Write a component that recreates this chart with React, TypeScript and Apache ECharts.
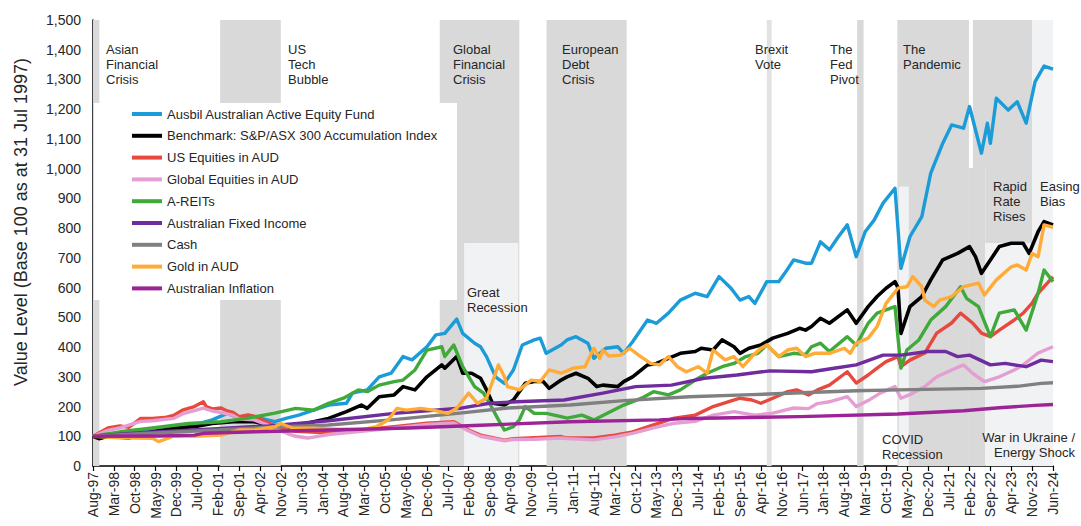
import React, { useEffect, useRef } from "react";
import * as echarts from "echarts";

// ---------- axis categories ----------
const MONTH_NAMES = ["Jan", "Feb", "Mar", "Apr", "May", "Jun", "Jul", "Aug", "Sep", "Oct", "Nov", "Dec"];
const FIRST_YEAR = 1997;
const FIRST_MONTH = 8; // Aug-97
const LAST_INDEX = 322; // Jun-24
const TICK_EVERY = 7; // months between tick labels
const Y_MAX = 1500;
const Y_STEP = 100;
const Y_TITLE = "Value Level (Base 100 as at 31 Jul 1997)";

// ---------- series values (month-end, Base 100 at 31 Jul 1997) ----------
const ausbil: [string, number][] = [
  ["1997-08", 100], ["1998-05", 110], ["1999-04", 121], ["1999-11", 132], ["2000-06", 138], ["2000-12", 155],
  ["2001-05", 177], ["2001-09", 161], ["2002-02", 166], ["2002-09", 149], ["2003-01", 161], ["2003-05", 171],
  ["2003-10", 188], ["2004-03", 205], ["2004-09", 211], ["2004-11", 245], ["2005-04", 256], ["2005-08", 300],
  ["2005-12", 312], ["2006-04", 368], ["2006-07", 357], ["2006-12", 401], ["2007-03", 441], ["2007-06", 446],
  ["2007-10", 494], ["2007-12", 446], ["2008-04", 413], ["2008-06", 401], ["2008-08", 368], ["2008-11", 300],
  ["2009-02", 278], ["2009-05", 323], ["2009-08", 407], ["2009-12", 424], ["2010-02", 430], ["2010-04", 379],
  ["2010-09", 407], ["2010-11", 424], ["2011-02", 435], ["2011-06", 413], ["2011-08", 362], ["2011-12", 396],
  ["2012-04", 401], ["2012-06", 379], ["2012-09", 418], ["2013-02", 491], ["2013-05", 480], ["2013-09", 514],
  ["2014-01", 558], ["2014-06", 581], ["2014-10", 570], ["2015-02", 637], ["2015-06", 598], ["2015-09", 558],
  ["2015-12", 570], ["2016-02", 547], ["2016-06", 620], ["2016-10", 620], ["2016-12", 648], ["2017-03", 693],
  ["2017-07", 682], ["2017-09", 682], ["2017-12", 754], ["2018-03", 727], ["2018-06", 771], ["2018-09", 811],
  ["2018-12", 704], ["2019-03", 788], ["2019-06", 827], ["2019-09", 884], ["2020-01", 934], ["2020-03", 665],
  ["2020-06", 771], ["2020-10", 839], ["2021-01", 985], ["2021-05", 1085], ["2021-08", 1147], ["2021-12", 1136],
  ["2022-02", 1209], ["2022-06", 1052], ["2022-08", 1153], ["2022-09", 1085], ["2022-11", 1237], ["2023-03", 1197],
  ["2023-06", 1225], ["2023-09", 1153], ["2023-12", 1293], ["2024-03", 1345], ["2024-06", 1335],
];

const benchmark: [string, number][] = [
  ["1997-08", 100], ["1997-10", 92], ["1998-01", 100], ["1998-08", 94], ["1998-12", 108], ["1999-04", 115],
  ["1999-11", 127], ["2000-06", 132], ["2000-12", 143], ["2001-07", 149], ["2002-02", 149], ["2002-09", 132],
  ["2003-01", 118], ["2003-05", 138], ["2003-10", 149], ["2004-03", 160], ["2004-09", 183], ["2005-02", 205],
  ["2005-04", 194], ["2005-08", 233], ["2006-01", 239], ["2006-04", 267], ["2006-08", 256], ["2006-12", 300],
  ["2007-05", 340], ["2007-06", 329], ["2007-10", 368], ["2007-12", 312], ["2008-03", 312], ["2008-06", 295],
  ["2008-08", 256], ["2008-10", 211], ["2009-02", 205], ["2009-05", 222], ["2009-09", 278], ["2009-12", 284],
  ["2010-03", 284], ["2010-05", 261], ["2010-09", 289], ["2010-11", 300], ["2011-02", 312], ["2011-06", 295],
  ["2011-09", 267], ["2011-11", 272], ["2012-04", 267], ["2012-06", 284], ["2012-09", 300], ["2013-02", 340],
  ["2013-05", 345], ["2013-09", 362], ["2014-01", 379], ["2014-06", 385], ["2014-08", 396], ["2014-12", 390],
  ["2015-03", 424], ["2015-07", 401], ["2015-09", 379], ["2015-12", 396], ["2016-04", 407], ["2016-08", 430],
  ["2017-01", 446], ["2017-05", 463], ["2017-07", 457], ["2017-09", 469], ["2017-12", 497], ["2018-03", 480],
  ["2018-09", 525], ["2018-12", 480], ["2019-04", 536], ["2019-07", 570], ["2019-10", 598], ["2020-01", 620],
  ["2020-02", 600], ["2020-03", 446], ["2020-06", 536], ["2020-10", 570], ["2021-01", 626], ["2021-05", 693],
  ["2021-10", 715], ["2022-02", 738], ["2022-04", 704], ["2022-06", 648], ["2022-09", 693], ["2022-12", 738],
  ["2023-04", 749], ["2023-08", 749], ["2023-10", 715], ["2024-01", 788], ["2024-03", 822], ["2024-06", 811],
];

const usEquities: [string, number][] = [
  ["1997-08", 100], ["1998-01", 128], ["1998-05", 135], ["1998-08", 130], ["1998-12", 160], ["1999-04", 160],
  ["1999-08", 163], ["1999-11", 170], ["2000-02", 188], ["2000-06", 200], ["2000-09", 216], ["2000-10", 200],
  ["2000-12", 192], ["2001-03", 195], ["2001-05", 185], ["2001-07", 180], ["2001-09", 166], ["2001-12", 172],
  ["2002-02", 168], ["2002-04", 160], ["2002-06", 149], ["2002-10", 132], ["2003-01", 121], ["2003-04", 117],
  ["2003-08", 115], ["2004-03", 111], ["2005-02", 121], ["2006-01", 132], ["2006-12", 144], ["2007-09", 149],
  ["2008-02", 121], ["2008-06", 104], ["2009-02", 87], ["2009-05", 92], ["2009-12", 95], ["2010-09", 99],
  ["2010-11", 94], ["2011-08", 94], ["2012-03", 104], ["2012-09", 115], ["2013-04", 138], ["2013-11", 161],
  ["2014-06", 171], ["2014-12", 200], ["2015-05", 216], ["2015-09", 228], ["2016-01", 222], ["2016-04", 211],
  ["2016-08", 228], ["2017-01", 250], ["2017-04", 256], ["2017-08", 239], ["2017-11", 256], ["2018-03", 272],
  ["2018-09", 317], ["2018-12", 279], ["2019-04", 306], ["2019-07", 329], ["2019-10", 351], ["2020-02", 368],
  ["2020-03", 334], ["2020-06", 356], ["2020-11", 380], ["2021-03", 447], ["2021-08", 481], ["2021-11", 514],
  ["2022-03", 481], ["2022-06", 447], ["2022-09", 435], ["2022-12", 457], ["2023-05", 491], ["2023-08", 514],
  ["2023-11", 548], ["2024-01", 581], ["2024-06", 636],
];

const globalEquities: [string, number][] = [
  ["1997-08", 100], ["1998-01", 120], ["1998-05", 128], ["1998-12", 150], ["1999-04", 152], ["1999-11", 160],
  ["2000-02", 175], ["2000-09", 195], ["2000-12", 185], ["2001-03", 180], ["2001-07", 170], ["2001-09", 158],
  ["2002-02", 155], ["2002-06", 140], ["2002-10", 122], ["2003-01", 110], ["2003-04", 100], ["2003-08", 94],
  ["2004-03", 106], ["2005-02", 117], ["2006-01", 128], ["2006-12", 140], ["2007-09", 145], ["2008-02", 118],
  ["2008-06", 100], ["2009-02", 85], ["2009-05", 89], ["2009-12", 90], ["2010-09", 94], ["2010-11", 92],
  ["2011-08", 88], ["2012-03", 98], ["2012-09", 110], ["2013-04", 128], ["2013-11", 144], ["2014-06", 150],
  ["2014-12", 171], ["2015-07", 183], ["2016-02", 171], ["2016-08", 178], ["2017-03", 195], ["2017-08", 193],
  ["2017-11", 210], ["2018-03", 216], ["2018-09", 233], ["2018-12", 200], ["2019-04", 220], ["2019-08", 245],
  ["2020-01", 267], ["2020-03", 228], ["2020-06", 240], ["2020-11", 267], ["2021-03", 300], ["2021-08", 323],
  ["2021-12", 340], ["2022-03", 312], ["2022-07", 284], ["2022-12", 300], ["2023-05", 323], ["2023-08", 340],
  ["2024-01", 380], ["2024-06", 401],
];

const aReits: [string, number][] = [
  ["1997-08", 100], ["1998-05", 115], ["1999-04", 128], ["2000-04", 143], ["2001-03", 149], ["2001-12", 161],
  ["2002-09", 178], ["2003-04", 194], ["2003-10", 188], ["2004-03", 211], ["2004-08", 228], ["2005-01", 256],
  ["2005-04", 250], ["2005-08", 272], ["2006-01", 284], ["2006-04", 289], ["2006-08", 323], ["2006-12", 390],
  ["2007-05", 401], ["2007-06", 368], ["2007-09", 407], ["2007-12", 334], ["2008-04", 267], ["2008-07", 245],
  ["2008-09", 211], ["2008-12", 155], ["2009-02", 121], ["2009-05", 132], ["2009-07", 155], ["2009-09", 200],
  ["2009-12", 177], ["2010-04", 177], ["2010-09", 166], ["2010-11", 161], ["2011-04", 171], ["2011-08", 155],
  ["2011-11", 170], ["2012-06", 205], ["2012-12", 228], ["2013-04", 250], ["2013-09", 239], ["2014-01", 256],
  ["2014-06", 289], ["2014-10", 312], ["2015-03", 334], ["2015-07", 345], ["2015-11", 368], ["2016-03", 379],
  ["2016-06", 407], ["2016-10", 368], ["2017-03", 379], ["2017-07", 375], ["2017-09", 401], ["2017-12", 413],
  ["2018-03", 385], ["2018-09", 435], ["2018-12", 407], ["2019-04", 480], ["2019-07", 514], ["2019-10", 525],
  ["2020-01", 536], ["2020-03", 329], ["2020-05", 390], ["2020-09", 424], ["2021-01", 491], ["2021-06", 536],
  ["2021-11", 603], ["2022-01", 564], ["2022-05", 536], ["2022-09", 435], ["2022-12", 514], ["2023-05", 525],
  ["2023-09", 457], ["2024-01", 581], ["2024-03", 659], ["2024-06", 620],
];

const fixedIncome: [string, number][] = [
  ["1997-08", 100], ["1998-12", 112], ["2000-12", 125], ["2002-07", 135], ["2004-03", 152], ["2006-01", 177],
  ["2007-11", 194], ["2008-09", 211], ["2009-06", 216], ["2010-10", 222], ["2011-11", 245], ["2012-10", 267],
  ["2013-10", 272], ["2014-09", 295], ["2015-08", 306], ["2016-07", 320], ["2017-09", 317], ["2018-04", 328],
  ["2018-12", 340], ["2019-09", 373], ["2020-03", 373], ["2020-12", 385], ["2021-06", 385], ["2021-10", 368],
  ["2022-02", 373], ["2022-09", 340], ["2023-02", 345], ["2023-09", 334], ["2024-02", 356], ["2024-06", 351],
];

const cash: [string, number][] = [
  ["1997-08", 100], ["1999-03", 110], ["2000-12", 120], ["2002-06", 130], ["2004-03", 138], ["2005-12", 155],
  ["2007-11", 178], ["2009-03", 195], ["2010-12", 205], ["2012-06", 220], ["2014-04", 233], ["2016-01", 240],
  ["2017-08", 247], ["2018-12", 253], ["2020-02", 256], ["2022-06", 261], ["2023-06", 268], ["2024-02", 278],
  ["2024-06", 280],
];

const gold: [string, number][] = [
  ["1997-08", 100], ["1998-05", 95], ["1999-04", 93], ["1999-06", 82], ["1999-11", 100], ["2000-06", 100],
  ["2001-03", 104], ["2001-09", 121], ["2002-02", 121], ["2002-09", 132], ["2002-11", 143], ["2003-03", 127],
  ["2003-10", 127], ["2004-03", 125], ["2005-02", 121], ["2005-07", 132], ["2005-11", 155], ["2006-02", 194],
  ["2006-05", 188], ["2006-10", 194], ["2007-02", 188], ["2007-07", 177], ["2007-10", 194], ["2008-02", 245],
  ["2008-05", 211], ["2008-08", 228], ["2008-10", 284], ["2008-12", 340], ["2009-02", 300], ["2009-03", 267],
  ["2009-07", 256], ["2009-11", 289], ["2010-02", 284], ["2010-05", 323], ["2010-09", 312], ["2010-11", 320],
  ["2011-01", 329], ["2011-05", 334], ["2011-08", 396], ["2011-10", 362], ["2011-11", 390], ["2012-01", 370],
  ["2012-05", 373], ["2012-08", 396], ["2012-11", 373], ["2013-03", 345], ["2013-06", 340], ["2013-09", 368],
  ["2013-12", 334], ["2014-03", 317], ["2014-07", 334], ["2014-10", 312], ["2014-12", 390], ["2015-04", 357],
  ["2015-07", 368], ["2015-10", 334], ["2016-01", 368], ["2016-04", 396], ["2016-06", 407], ["2016-10", 368],
  ["2017-01", 390], ["2017-04", 396], ["2017-07", 368], ["2017-10", 379], ["2018-03", 379], ["2018-08", 396],
  ["2018-10", 379], ["2018-12", 413], ["2019-04", 430], ["2019-07", 469], ["2019-10", 547], ["2020-02", 598],
  ["2020-05", 603], ["2020-07", 637], ["2020-10", 603], ["2020-11", 558], ["2021-02", 536], ["2021-04", 558],
  ["2021-08", 570], ["2021-12", 603], ["2022-05", 615], ["2022-07", 575], ["2022-11", 626], ["2023-04", 670],
  ["2023-06", 676], ["2023-09", 659], ["2023-11", 715], ["2024-01", 704], ["2024-03", 811], ["2024-06", 803],
];

const inflation: [string, number][] = [
  ["1997-08", 100], ["1999-06", 101], ["2000-06", 104], ["2000-09", 110], ["2002-06", 116], ["2004-03", 121],
  ["2006-06", 128], ["2008-06", 137], ["2010-12", 149], ["2013-06", 155], ["2014-04", 160], ["2017-05", 166],
  ["2020-02", 175], ["2021-12", 186], ["2022-12", 196], ["2023-12", 204], ["2024-06", 207],
];

const SERIES_NAMES = [
  "Ausbil Australian Active Equity Fund",
  "Benchmark: S&P/ASX 300 Accumulation Index",
  "US Equities in AUD",
  "Global Equities in AUD",
  "A-REITs",
  "Australian Fixed Income",
  "Cash",
  "Gold in AUD",
  "Australian Inflation",
];
const SERIES_VALUES = [ausbil, benchmark, usEquities, globalEquities, aReits, fixedIncome, cash, gold, inflation];
const SERIES_COLORS = ["#1b9bd8", "#000000", "#e8493e", "#e49ed2", "#3fa93a", "#6f2c9f", "#808080", "#ffab37", "#9c2496"];

// ---------- event periods (shaded) ----------
const periodFrom = ["1997-08", "2001-02-20", "2007-04-10", "2007-12-15", "2010-04-05", "2016-06", "2018-12-10", "2020-01-25", "2020-02-10", "2022-01-25", "2022-03-05", "2022-07-10", "2022-07-10", "2023-11"];
const periodTo = ["1997-10-05", "2002-11", "2009-07", "2009-06-20", "2012-07", "2016-07-20", "2019-02-15", "2022-01-25", "2020-05-20", "2022-07-10", "2023-11", "2023-11", "2023-11", "2024-06"];
const periodLow = [0, 0, 0, 0, 0, 0, 0, 0, 0, 0, 1002, 750, 0, 0];
const periodHigh = [1500, 1500, 1500, 750, 1500, 1500, 1500, 1500, 940, 1002, 1500, 1002, 750, 1500];
const periodTone = ["dark", "dark", "dark", "light", "dark", "mid", "dark", "dark", "light", "dark", "dark", "dark", "light", "light"];

const annotationTexts = [
  "Asian\nFinancial\nCrisis", "US\nTech\nBubble", "Global\nFinancial\nCrisis", "European\nDebt\nCrisis",
  "Brexit\nVote", "The\nFed\nPivot", "The\nPandemic", "Great\nRecession", "Rapid\nRate\nRises", "Easing\nBias",
  "COVID\nRecession", "War in Ukraine /\nEnergy Shock",
];

function idx(d: string): number {
  const parts = d.split("-").map(Number);
  const [y, m, day] = parts;
  return (y - FIRST_YEAR) * 12 + (m - FIRST_MONTH) + (day ? (day - 1) / 30 : 0);
}

function monthLabel(i: number): string {
  const t = FIRST_MONTH - 1 + Math.round(i);
  const y = FIRST_YEAR + Math.floor(t / 12);
  return MONTH_NAMES[t % 12] + "-" + String(y % 100).padStart(2, "0");
}

const FONT = "'Liberation Sans', Arial, sans-serif";
const TEXT_COLOR = "#262626";
const TONE: Record<string, string> = { dark: "#d9d9d9", mid: "#e2e2e2", light: "#f1f2f4" };

export default function App() {
  const ref = useRef<HTMLDivElement>(null);

  useEffect(() => {
    if (!ref.current) return;
    const chart = echarts.init(ref.current, null, { renderer: "svg" });

    const bandData = periodFrom.map((from, i) => [
      { xAxis: idx(from), yAxis: periodLow[i], itemStyle: { color: TONE[periodTone[i]] } },
      { xAxis: idx(periodTo[i]), yAxis: periodHigh[i] },
    ]);

    const lineSeries = SERIES_NAMES.map((name, i) => ({
      name,
      type: "line",
      data: SERIES_VALUES[i].map(([d, v]) => [idx(d), v]),
      showSymbol: false,
      symbol: "none",
      color: SERIES_COLORS[i],
      lineStyle: { width: i === 1 ? 3.6 : 3.4, color: SERIES_COLORS[i], join: "round" },
      z: 3,
      silent: true,
    }));

    const annX = [106, 288, 453, 562, 755, 830, 903, 467, 993, 1040, 882, 1075];
    const annY = [42, 42, 42, 42, 42, 42, 42, 285, 179, 179, 432, 430];

    const option: any = {
      animation: false,
      grid: { left: 93, right: 28, top: 20, bottom: 60, containLabel: false, outerBoundsMode: "none" },
      xAxis: {
        type: "value",
        min: 0,
        max: LAST_INDEX,
        interval: TICK_EVERY,
        splitLine: { show: false },
        axisLine: { show: true, onZero: false, lineStyle: { color: "#000", width: 1.5 } },
        axisTick: { show: true, length: 5, lineStyle: { color: "#000", width: 1.2 } },
        axisLabel: {
          rotate: 90,
          margin: 6,
          fontSize: 14,
          color: TEXT_COLOR,
          fontFamily: FONT,
          formatter: (v: number) => monthLabel(v),
          showMinLabel: true,
          showMaxLabel: true,
        },
      },
      yAxis: {
        type: "value",
        min: 0,
        max: Y_MAX,
        interval: Y_STEP,
        splitLine: { show: false },
        axisLine: { show: true, lineStyle: { color: "#000", width: 1.5 } },
        axisTick: { show: false },
        axisLabel: {
          margin: 12,
          fontSize: 14,
          color: TEXT_COLOR,
          fontFamily: FONT,
          formatter: (v: number) => v.toLocaleString("en-US"),
        },
      },
      legend: {
        data: SERIES_NAMES,
        orient: "vertical",
        left: 132,
        top: 107,
        icon: "rect",
        itemWidth: 30,
        itemHeight: 4,
        itemGap: 7.8,
        padding: 0,
        selectedMode: false,
        textStyle: { fontSize: 13, color: TEXT_COLOR, fontFamily: FONT, lineHeight: 14 },
        z: 6,
      },
      graphic: [
        { type: "rect", z: 4, silent: true, shape: { x: 94, y: 103, width: 363, height: 197 }, style: { fill: "#ffffff" } },
        {
          type: "text",
          z: 7,
          silent: true,
          x: 21,
          y: 222,
          rotation: Math.PI / 2,
          style: {
            text: Y_TITLE,
            fill: TEXT_COLOR,
            font: `18px ${FONT}`,
            align: "center",
            verticalAlign: "middle",
          },
        },
        ...annotationTexts.map((t, i) => ({
          type: "text",
          z: 7,
          silent: true,
          x: annX[i],
          y: annY[i],
          style: {
            text: t,
            fill: TEXT_COLOR,
            font: `13px ${FONT}`,
            lineHeight: 15,
            align: i === 11 ? "right" : "left",
            verticalAlign: "top",
          },
        })),
      ],
      series: [
        {
          name: "periods",
          type: "line",
          data: [],
          z: 1,
          silent: true,
          markArea: { silent: true, z: 1, data: bandData },
        },
        ...lineSeries,
      ],
    };

    chart.setOption(option);
    return () => chart.dispose();
  }, []);

  return (
    <div
      ref={ref}
      style={{ position: "absolute", left: 0, top: 0, width: 1081, height: 526, background: "#fff" }}
    />
  );
}
